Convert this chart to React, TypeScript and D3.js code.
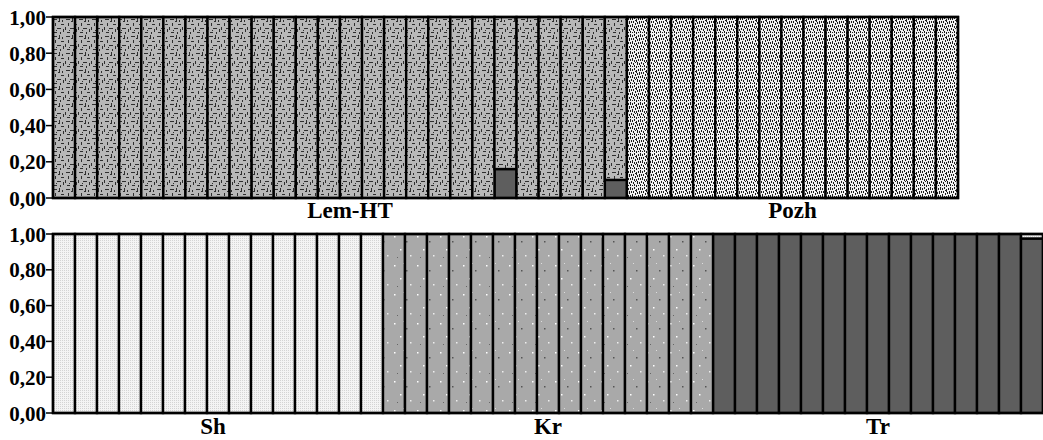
import React from "react";
import * as d3 from "d3";

// ----- data -----
const clusterKeys = ["Tr", "Lem", "Pozh", "Sh", "Kr"];

const topPopulations = ["Lem-HT", "Pozh"];
const bottomPopulations = ["Sh", "Kr", "Tr"];

// Lem-HT individuals: proportion assigned to Tr cluster (rest Lem)
const lemHT_Tr = [0, 0, 0, 0, 0, 0, 0, 0, 0, 0, 0, 0, 0, 0, 0, 0, 0, 0, 0, 0, 0.16, 0, 0, 0, 0, 0.10];
// Pozh individuals: proportion Pozh
const pozh_Pozh = [1, 1, 1, 1, 1, 1, 1, 1, 1, 1, 1, 1, 1, 1, 1];
// Sh individuals: proportion Sh
const sh_Sh = [1, 1, 1, 1, 1, 1, 1, 1, 1, 1, 1, 1, 1, 1, 1];
// Kr individuals: proportion Kr
const kr_Kr = [1, 1, 1, 1, 1, 1, 1, 1, 1, 1, 1, 1, 1, 1, 1];
// Tr individuals: proportion assigned to Sh cluster (rest Tr)
const tr_Sh = [0, 0, 0, 0, 0, 0, 0, 0, 0, 0, 0, 0, 0, 0, 0.025];

const yTicks = [0, 0.2, 0.4, 0.6, 0.8, 1.0];

type Row = { [k: string]: number | string };

const zero = () => ({ Tr: 0, Lem: 0, Pozh: 0, Sh: 0, Kr: 0 });

const topRows: Row[] = [
  ...lemHT_Tr.map((t) => ({ ...zero(), pop: "Lem-HT", Tr: t, Lem: 1 - t })),
  ...pozh_Pozh.map((p) => ({ ...zero(), pop: "Pozh", Pozh: p })),
];
const bottomRows: Row[] = [
  ...sh_Sh.map((s) => ({ ...zero(), pop: "Sh", Sh: s })),
  ...kr_Kr.map((k) => ({ ...zero(), pop: "Kr", Kr: k })),
  ...tr_Sh.map((s) => ({ ...zero(), pop: "Tr", Sh: s, Tr: 1 - s })),
];

const fills: { [k: string]: string } = {
  Tr: "#5e5e5e",
  Lem: "url(#patLem)",
  Pozh: "url(#patPozh)",
  Sh: "url(#patSh)",
  Kr: "url(#patKr)",
};

const FONT = "'Liberation Serif', 'Times New Roman', serif";

function Panel({ rows, pops, x0, x1, yTop, yBot, labelY, labelOffsets }: any) {
  const idx = rows.map((_: any, i: number) => i);
  const x = d3.scaleBand<number>().domain(idx).range([x0, x1]).padding(0);
  const y = d3.scaleLinear().domain([0, 1]).range([yBot, yTop]);
  const series = d3.stack<any>().keys(clusterKeys)(rows);
  const groups = pops.map((p: string) => {
    const ids = idx.filter((i: number) => rows[i].pop === p);
    const a = x(ids[0])!;
    const b = x(ids[ids.length - 1])! + x.bandwidth();
    return { p, a, b };
  });
  return (
    <g>
      {series.map((s) =>
        s.map((d, i) => {
          const h = y(d[0]) - y(d[1]);
          if (h <= 0.01) return null;
          return (
            <rect
              key={s.key + i}
              x={x(i)}
              y={y(d[1])}
              width={x.bandwidth()}
              height={h}
              fill={fills[s.key]}
              stroke="#000"
              strokeWidth={2.4}
            />
          );
        })
      )}
      <rect x={x0} y={yTop} width={x1 - x0} height={yBot - yTop} fill="none" stroke="#000" strokeWidth={2.4} />
      {/* axis */}
      <line x1={x0} x2={x0} y1={yTop} y2={yBot} stroke="#000" strokeWidth={2} />
      {yTicks.map((t) => (
        <g key={t}>
          <line x1={x0 - 7} x2={x0} y1={y(t)} y2={y(t)} stroke="#000" strokeWidth={1.5} />
          <text
            x={x0 - 7}
            y={y(t)}
            dy="0.36em"
            textAnchor="end"
            fontFamily={FONT}
            fontWeight="bold"
            fontSize={21}
            fill="#000"
          >
            {t.toFixed(2).replace(".", ",")}
          </text>
        </g>
      ))}
      {groups.map((g: any, i: number) => (
        <text
          key={g.p}
          x={(g.a + g.b) / 2 + (labelOffsets ? labelOffsets[i] : 0)}
          y={labelY}
          textAnchor="middle"
          fontFamily={FONT}
          fontWeight="bold"
          fontSize={23}
          fill="#000"
        >
          {g.p}
        </text>
      ))}
    </g>
  );
}

function Patterns() {
  // decorative texture tiles (style only)
  const lemMarks: [number, number, number, number][] = [
    [1, 2, 4, 1], [7, 1, 1, 4], [3, 6, 1, 3], [9, 7, 3, 1], [0, 10, 1, 3],
    [5, 11, 4, 1], [11, 12, 1, 3], [2, 15, 3, 1], [8, 15, 1, 2], [6, 4, 2, 1],
    [10, 3, 1, 2], [4, 13, 1, 1],
  ];
  const pozhMarks: [number, number, number, number][] = [
    [0, 0, 1, 3], [2, 1, 1, 2], [4, 0, 1, 2], [6, 2, 1, 3], [8, 1, 1, 2], [1, 4, 1, 2],
    [3, 4, 1, 2], [5, 6, 1, 2], [7, 5, 1, 2], [9, 4, 1, 3], [0, 8, 1, 2], [2, 7, 1, 3],
    [4, 9, 1, 2], [6, 9, 1, 2], [8, 8, 1, 2], [1, 11, 1, 2], [3, 12, 1, 2], [5, 11, 1, 1],
    [7, 11, 1, 3], [9, 12, 1, 2], [0, 14, 1, 2], [4, 14, 1, 2], [8, 15, 1, 1], [6, 15, 1, 2],
    [2, 15, 1, 1], [5, 3, 1, 1],
  ];
  return (
    <defs>
      <pattern id="patLem" width="13" height="17" patternUnits="userSpaceOnUse">
        <rect width="13" height="17" fill="#b8b8b8" />
        {lemMarks.map((m, i) => (
          <rect key={i} x={m[0]} y={m[1]} width={m[2]} height={m[3]} fill="#2e2e2e" />
        ))}
      </pattern>
      <pattern id="patPozh" width="10" height="17" patternUnits="userSpaceOnUse">
        <rect width="10" height="17" fill="#f4f4f4" />
        {pozhMarks.map((m, i) => (
          <rect key={i} x={m[0]} y={m[1]} width={m[2]} height={m[3]} fill="#1e1e1e" />
        ))}
      </pattern>
      <pattern id="patSh" width="2" height="2" patternUnits="userSpaceOnUse">
        <rect width="2" height="2" fill="#f4f4f4" />
        <rect width="1" height="1" fill="#d4d4d4" />
      </pattern>
      <pattern id="patKr" width="23" height="29" patternUnits="userSpaceOnUse">
        <rect width="23" height="29" fill="#a9a9a9" />
        <rect x="3" y="4" width="1.5" height="1.5" fill="#ffffff" />
        <rect x="15" y="9" width="1.5" height="1.5" fill="#555" />
        <rect x="9" y="17" width="1.5" height="1.5" fill="#fff" />
        <rect x="19" y="23" width="1.5" height="1.5" fill="#eee" />
        <rect x="6" y="25" width="1" height="1" fill="#666" />
        <rect x="12" y="2" width="1" height="1" fill="#ddd" />
      </pattern>
    </defs>
  );
}

export default function App() {
  return (
    <svg
      width={1043}
      height={440}
      style={{ position: "absolute", left: 0, top: 0, background: "#fff" }}
    >
      <Patterns />
      <Panel rows={topRows} pops={topPopulations} x0={53} x1={958} yTop={17} yBot={198} labelY={218} labelOffsets={[10, 0]} />
      <Panel rows={bottomRows} pops={bottomPopulations} x0={53} x1={1043} yTop={234} yBot={413} labelY={434} labelOffsets={[-5, 0, 0]} />
    </svg>
  );
}
